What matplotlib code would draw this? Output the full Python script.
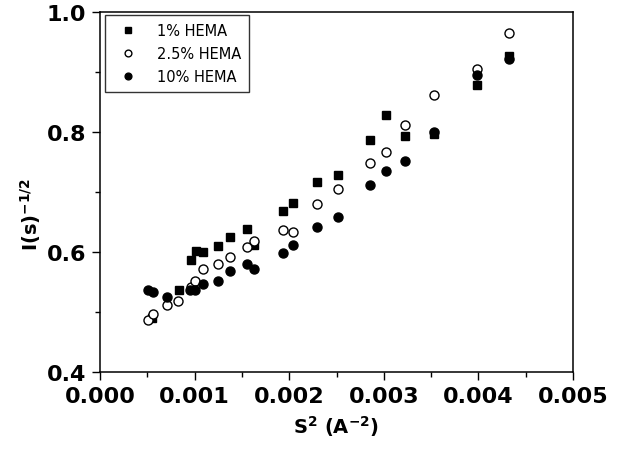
import matplotlib
matplotlib.use("Agg")
import matplotlib.pyplot as plt
from matplotlib.ticker import MultipleLocator, FormatStrFormatter

plt.rcParams['font.family'] = ['DejaVu Sans']
plt.rcParams['mathtext.default'] = 'bf'

# 1% HEMA
s2_1 = [0.000547, 0.000835, 0.000959, 0.00101, 0.00109, 0.00125, 0.00137,
        0.00155, 0.00163, 0.00193, 0.00204, 0.00229, 0.00252, 0.00285,
        0.00302, 0.00322, 0.00353, 0.00398, 0.00432]
inv_1 = [0.490, 0.537, 0.586, 0.602, 0.600, 0.610, 0.625,
         0.638, 0.611, 0.668, 0.681, 0.716, 0.728, 0.786,
         0.829, 0.794, 0.797, 0.878, 0.927]

# 2.5% HEMA
s2_25 = [0.000511, 0.000557, 0.000711, 0.000828, 0.000959, 0.001004, 0.00109,
         0.00125, 0.00137, 0.00155, 0.00163, 0.00193, 0.00204, 0.00229,
         0.00252, 0.00285, 0.00302, 0.00322, 0.00353, 0.00398, 0.00432]
inv_25 = [0.486, 0.497, 0.512, 0.519, 0.541, 0.552, 0.572,
          0.580, 0.591, 0.608, 0.619, 0.637, 0.634, 0.680,
          0.705, 0.748, 0.767, 0.812, 0.862, 0.905, 0.965]

# 10% HEMA
s2_10 = [0.000511, 0.000557, 0.000711, 0.000951, 0.001004, 0.00109,
         0.00125, 0.00137, 0.00155, 0.00163, 0.00193, 0.00204, 0.00229,
         0.00252, 0.00285, 0.00302, 0.00322, 0.00353, 0.00398, 0.00432]
inv_10 = [0.537, 0.533, 0.525, 0.536, 0.537, 0.547,
          0.551, 0.568, 0.580, 0.572, 0.598, 0.612, 0.642,
          0.658, 0.712, 0.735, 0.752, 0.800, 0.895, 0.922]

fig = plt.figure(figsize=(6.2, 4.56), dpi=100)
ax = fig.add_axes([100/620, 83/456, 473/620, 360/456])

ax.plot(s2_1, inv_1, ls='none', marker='s', ms=6, mfc='black', mec='black',
        label='1% HEMA')
ax.plot(s2_25, inv_25, ls='none', marker='o', ms=6.5, mfc='white', mec='black',
        mew=1.0, label='2.5% HEMA')
ax.plot(s2_10, inv_10, ls='none', marker='o', ms=6.5, mfc='black', mec='black',
        label='10% HEMA')

ax.set_xlim(0, 0.005)
ax.set_ylim(0.4, 1.0)
ax.xaxis.set_major_locator(MultipleLocator(0.001))
ax.xaxis.set_minor_locator(MultipleLocator(0.0005))
ax.yaxis.set_major_locator(MultipleLocator(0.2))
ax.yaxis.set_minor_locator(MultipleLocator(0.1))
ax.xaxis.set_major_formatter(FormatStrFormatter('%.3f'))
ax.yaxis.set_major_formatter(FormatStrFormatter('%.1f'))

ax.tick_params(which='major', direction='out', length=6, width=1.0,
               labelsize=16, pad=4)
ax.tick_params(which='minor', direction='out', length=3.5, width=1.0)
for lab in ax.get_xticklabels() + ax.get_yticklabels():
    lab.set_fontweight('bold')
for sp in ax.spines.values():
    sp.set_linewidth(1.1)

ax.set_xlabel('S$^{2}$ (A$^{-2}$)', fontsize=14, fontweight='bold', labelpad=5)
ax.set_ylabel('I(s)$^{-1/2}$', fontsize=14, fontweight='bold')
ax.yaxis.set_label_coords(-0.12, 0.44)

leg = ax.legend(loc='upper left', bbox_to_anchor=(5/473, 1 - 3/360),
                borderaxespad=0, fontsize=10.5,
                frameon=True, fancybox=False, edgecolor='black',
                markerscale=0.75, handletextpad=1.0, borderpad=0.55,
                labelspacing=0.55, handlelength=2.0)
leg.get_frame().set_linewidth(1.0)

fig.savefig('out.png', dpi=100)
